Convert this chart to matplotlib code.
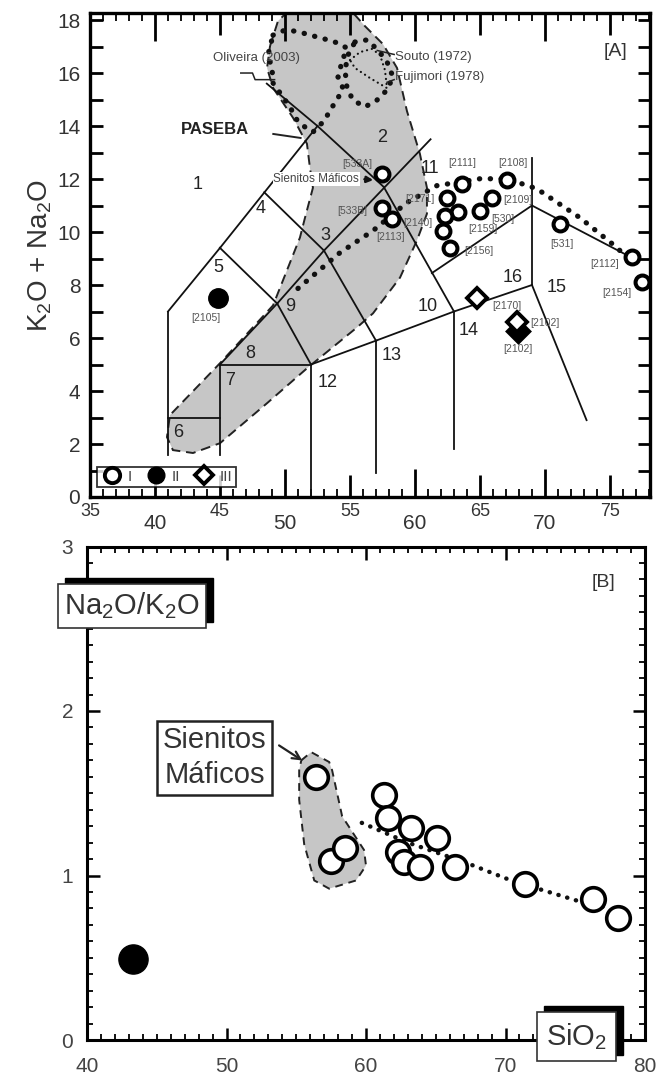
import numpy as np
import matplotlib
matplotlib.use('Agg')
import matplotlib.pyplot as plt
from matplotlib.lines import Line2D
from matplotlib.patches import Polygon, Rectangle
from matplotlib.ticker import MultipleLocator

plt.rcParams['font.family'] = ['Liberation Sans', 'DejaVu Sans']
plt.rcParams['mathtext.fontset'] = 'custom'
plt.rcParams['mathtext.rm'] = 'Liberation Sans'
plt.rcParams['mathtext.it'] = 'Liberation Sans:italic'
plt.rcParams['mathtext.bf'] = 'Liberation Sans:bold'

# ---------------- Panel A data (TAS) ----------------
grp1_sio2 = [57.5, 57.5, 58.2, 62.5, 63.6, 67.1, 65.9, 65.0, 63.3, 62.3, 62.15, 62.7, 71.15, 76.7, 77.45]
grp1_alk  = [12.2, 10.9, 10.5, 11.3, 11.8, 11.95, 11.3, 10.8, 10.75, 10.6, 10.05, 9.4, 10.3, 9.05, 8.1]
grp2_sio2 = [44.85]
grp2_alk  = [7.5]
grp3_sio2 = [64.8, 67.85]
grp3_alk  = [7.5, 6.6]
grp3f_sio2 = [67.9]
grp3f_alk  = [6.25]

sample_names = ['[533A]', '[533B]', '[2113]', '[2140]', '[2171]', '[2111]', '[2108]', '[2109]',
                '[530]', '[2159]', '[2156]', '[531]', '[2112]', '[2154]', '[2170]', '[2102]',
                '[2102]', '[2105]']
sample_lx = [55.6, 55.2, 58.1, 60.2, 60.4, 63.6, 67.5, 67.9, 66.8, 65.2, 64.9, 71.3, 74.6, 75.5,
             67.1, 70.0, 67.9, 43.9]
sample_ly = [12.55, 10.8, 9.8, 10.35, 11.25, 12.6, 12.6, 11.2, 10.5, 10.1, 9.3, 9.55, 8.8, 7.7,
             7.2, 6.55, 5.6, 6.75]

# TAS field boundaries (SiO2, alkalis)
field_x = [[41, 41], [41, 45], [45, 52.5], [52.5, 48.6], [52.5, 57.6], [45, 49.4], [49.4, 52],
           [41, 45], [45, 45], [45, 52], [45, 49.4], [49.4, 53], [53, 61.2], [48.4, 53],
           [53, 57], [52, 52], [52, 57], [57, 63], [63, 69], [57.6, 63], [57, 57], [63, 63],
           [69, 69], [69, 73.2], [61.3, 69], [69, 76.8]]
field_y = [[1.6, 7], [7, 9.4], [9.4, 14], [14, 15.6], [14, 11.7], [9.4, 7.3], [7.3, 5],
           [3, 3], [1.6, 5], [5, 5], [5, 7.3], [7.3, 9.3], [9.3, 13.5], [11.5, 9.3],
           [9.3, 5.9], [0, 5], [5, 5.9], [5.9, 7], [7, 8], [11.7, 7], [0.9, 5.9], [1.8, 7],
           [8, 12.8], [8, 2.9], [8.45, 11.0], [11.0, 9.0]]
field_labels = ['1', '2', '3', '4', '5', '6', '7', '8', '9', '10', '11', '12', '13', '14', '15', '16']
field_lx = [43.3, 57.5, 53.1, 48.1, 44.85, 41.8, 45.8, 47.3, 50.4, 61.0, 61.15, 53.3, 58.2, 64.1, 70.9, 67.5]
field_ly = [11.8, 13.55, 9.86, 10.9, 8.66, 2.45, 4.4, 5.4, 7.2, 7.2, 12.4, 4.33, 5.35, 6.3, 7.9, 8.3]

# PASEBA shaded field outline
paseba_x = [48.85, 49.46, 50.38, 55.0, 56.15, 57.54, 58.62, 59.38, 60.38, 60.92, 60.92, 60.15,
            58.85, 56.77, 55.54, 51.77, 48.62, 45.0, 42.92, 41.38, 40.92, 41.15, 45.0, 49.08,
            51.15, 51.54, 52.15, 51.92, 51.69, 50.62, 49.08, 48.62]
paseba_y = [17.02, 17.96, 18.4, 18.4, 17.77, 17.09, 16.19, 14.57, 12.95, 11.67, 10.69, 9.68,
            8.28, 6.93, 6.40, 4.89, 3.54, 2.03, 1.66, 1.77, 2.26, 3.09, 5.05, 7.23,
            9.79, 10.54, 11.67, 12.42, 13.33, 14.31, 15.44, 16.19]

# Oliveira (2003) field
oliv_x = [49.08, 50.0, 50.77, 51.69, 52.46, 53.31, 54.08, 54.77, 54.38, 54.08, 54.46, 54.0, 53.46,
          53.08, 52.15, 51.54, 50.92, 50.38, 49.62, 49.08, 49.0, 48.69, 49.08]
oliv_y = [17.43, 17.62, 17.58, 17.47, 17.36, 17.25, 17.13, 16.94, 16.42, 15.85, 15.43, 14.98, 14.6,
          14.23, 13.77, 13.96, 14.23, 14.72, 15.25, 15.62, 16.19, 16.68, 17.43]
# Souto (1972) field
souto_x = [55.38, 56.31, 57.15, 57.85, 58.31, 57.85, 57.08, 56.15, 55.23, 54.77, 54.62, 54.85, 55.38]
souto_y = [17.17, 17.25, 16.87, 16.42, 15.85, 15.36, 14.98, 14.72, 14.98, 15.43, 16.11, 16.68, 17.17]
# Fujimori (1978) field
fuji_x = [55.0, 55.77, 56.69, 57.31, 57.69, 57.85, 56.54, 55.38, 55.0]
fuji_y = [16.49, 16.79, 16.91, 16.68, 16.11, 15.43, 15.81, 16.19, 16.49]

# evolution trend (panel A)
trendA_x = [51.0, 54.23, 56.77, 59.38, 61.69, 65.0, 67.08, 69.38, 72.69, 75.54, 76.15]
trendA_y = [7.87, 9.22, 10.05, 11.11, 11.75, 12.01, 12.01, 11.63, 10.54, 9.41, 9.11]

# ---------------- Panel B data ----------------
b_maf_sio2 = [56.4, 57.5, 58.5]
b_maf_ratio = [1.60, 1.09, 1.17]
b_grp1_sio2 = [61.3, 61.6, 63.2, 62.3, 62.7, 63.9, 65.1, 66.4, 71.4, 76.3, 78.1]
b_grp1_ratio = [1.49, 1.35, 1.29, 1.14, 1.08, 1.05, 1.23, 1.05, 0.95, 0.86, 0.74]
b_grp2_sio2 = [43.3]
b_grp2_ratio = [0.49]
b_maf_field_x = [55.36, 56.07, 57.36, 57.57, 58.29, 59.86, 60.0, 59.29, 57.36, 56.29, 55.57, 55.21, 55.21]
b_maf_field_y = [1.70, 1.75, 1.69, 1.64, 1.36, 1.155, 1.06, 0.97, 0.92, 0.97, 1.19, 1.46, 1.64]
trendB_x = [59.7, 63.0, 67.1, 70.4, 75.4, 77.5]
trendB_y = [1.32, 1.20, 1.08, 0.97, 0.84, 0.80]

# ======================================================
fig = plt.figure(figsize=(6.57, 10.82), dpi=100)
axA = fig.add_axes([90/657, 1-497/1082, 560/657, (497-13.4)/1082])
axB = fig.add_axes([87/657, 1-1040/1082, 558/657, (1040-546.5)/1082])

TXT = '#333333'

# ---- Panel A ----
axA.set_xlim(35, 78.08)
axA.set_ylim(0, 18.25)

axA.add_patch(Polygon(np.column_stack([paseba_x, paseba_y]), closed=True,
                      facecolor='#c6c6c6', edgecolor='#222222', lw=1.4,
                      linestyle=(0, (5, 3)), zorder=1))
for fx, fy in zip(field_x, field_y):
    axA.plot(fx, fy, color='#111111', lw=1.3, zorder=2)

dot_style = dict(color='#111111', lw=3.8, linestyle=(0, (0.05, 2.0)),
                 dash_capstyle='round', zorder=3)
axA.plot(oliv_x, oliv_y, **dot_style)
axA.plot(souto_x, souto_y, **dot_style)
axA.plot(fuji_x, fuji_y, color='#111111', lw=1.6, linestyle=(0, (0.05, 2.2)),
         dash_capstyle='round', zorder=3)
axA.plot(trendA_x, trendA_y, **dot_style)

for t, x, y in zip(field_labels, field_lx, field_ly):
    axA.text(x, y, t, fontsize=13, color='#222222', ha='center', va='center', zorder=4)

axA.plot(grp1_sio2, grp1_alk, 'o', ms=10, mfc='white', mec='black', mew=2.9, zorder=6)
axA.plot(grp2_sio2, grp2_alk, 'o', ms=14, mfc='black', mec='black', zorder=6)
axA.plot(grp3f_sio2, grp3f_alk, 'D', ms=11, mfc='black', mec='black', mew=2.5, zorder=6)
axA.plot(grp3_sio2, grp3_alk, 'D', ms=10, mfc='white', mec='black', mew=2.8, zorder=7)

for t, x, y in zip(sample_names, sample_lx, sample_ly):
    axA.text(x, y, t, fontsize=7.5, color='#555555', ha='center', va='center', zorder=8)

# annotations of panel A
axA.text(47.8, 16.55, 'Oliveira (2003)', fontsize=9.5, color='#444444', ha='center', va='center', zorder=8)
axA.plot([46.6, 47.5, 47.7, 49.2], [16.0, 16.0, 15.75, 15.75], color='#222222', lw=1.1, zorder=8)
axA.text(58.45, 16.6, 'Souto (1972)', fontsize=9.5, color='#444444', ha='left', va='center', zorder=8)
axA.plot([57.1, 58.4], [16.85, 16.7], color='#222222', lw=1.1, zorder=8)
axA.text(58.45, 15.85, 'Fujimori (1978)', fontsize=9.5, color='#444444', ha='left', va='center', zorder=8)
axA.plot([57.85, 58.4], [15.65, 15.75], color='#222222', lw=1.1, zorder=8)
axA.text(44.6, 13.85, 'PASEBA', fontsize=12, fontweight='bold', color='#222222', ha='center', va='center', zorder=8)
axA.plot([49.1, 51.2], [13.7, 13.55], color='#222222', lw=1.4, zorder=8)
axA.text(52.4, 12.0, 'Sienitos Máficos', fontsize=8.5, color='#444444', ha='center', va='center', zorder=8,
         bbox=dict(boxstyle='square,pad=0.05', fc='white', ec='none'))
axA.annotate('', xy=(57.0, 11.95), xytext=(55.9, 12.0),
             arrowprops=dict(arrowstyle='-|>', color='#111111', lw=1.8, mutation_scale=9), zorder=8)
axA.text(75.4, 16.8, '[A]', fontsize=14, color=TXT, ha='center', va='center')

# legend
hI = Line2D([], [], marker='o', ls='none', ms=11, mfc='white', mec='black', mew=2.8)
hII = Line2D([], [], marker='o', ls='none', ms=12, mfc='black', mec='black')
hIII = Line2D([], [], marker='D', ls='none', ms=9, mfc='white', mec='black', mew=2.8)
leg = axA.legend([hI, hII, hIII], ['I', 'II', 'III'], ncol=3, loc='lower left',
                 bbox_to_anchor=(0.0125, 0.021), frameon=True, fancybox=False,
                 edgecolor='black', fontsize=11, handlelength=1.6, handletextpad=0.2,
                 columnspacing=0.8, borderpad=0.2, borderaxespad=0.0)
leg.get_frame().set_linewidth(1.3)
for t in leg.get_texts():
    t.set_color('#444444')
leg.set_zorder(10)

# axes styling panel A
for sp in axA.spines.values():
    sp.set_linewidth(2.4)
axA.set_yticks(np.arange(0, 19, 2))
axA.yaxis.set_minor_locator(MultipleLocator(1))
axA.tick_params(axis='y', which='both', direction='in', left=True, right=True,
                length=9, width=2.0, labelsize=15, labelcolor=TXT, pad=7)
xt = np.arange(35, 80, 5)
axA.set_xticks(xt)
axA.set_xticklabels([str(v) for v in xt])
axA.xaxis.set_minor_locator(MultipleLocator(1))
axA.tick_params(axis='x', which='minor', direction='in', top=True, bottom=True, length=6, width=1.3)
axA.tick_params(axis='x', which='major', direction='in', top=True, bottom=True, width=2.0, labelcolor=TXT)
for tick, v in zip(axA.xaxis.get_major_ticks(), xt):
    if v % 10 == 0:
        ln, fs, pd = 20, 15, 12
    else:
        ln, fs, pd = 16, 13, 4
    tick.tick1line.set_markersize(ln)
    tick.tick2line.set_markersize(ln)
    tick.label1.set_fontsize(fs)
    tick.label1.set_transform(axA.get_xaxis_text1_transform(pd)[0])

fig.text(40/657, 1-255/1082, 'K$_2$O + Na$_2$O', rotation=90, fontsize=20, color=TXT,
         ha='center', va='center')

# ---- Panel B ----
axB.set_xlim(40, 80)
axB.set_ylim(0, 3)
axB.add_patch(Polygon(np.column_stack([b_maf_field_x, b_maf_field_y]), closed=True,
                      facecolor='#c6c6c6', edgecolor='#222222', lw=1.4,
                      linestyle=(0, (4, 3)), zorder=1))
axB.plot(trendB_x, trendB_y, color='#111111', lw=3.2, linestyle=(0, (0.05, 2.0)),
         dash_capstyle='round', zorder=2)
axB.plot(b_maf_sio2, b_maf_ratio, 'o', ms=17, mfc='white', mec='black', mew=2.6, zorder=5)
axB.plot(b_grp1_sio2, b_grp1_ratio, 'o', ms=17, mfc='white', mec='black', mew=2.6, zorder=5)
axB.plot(b_grp2_sio2, b_grp2_ratio, 'o', ms=21, mfc='black', mec='black', zorder=5)

for sp in axB.spines.values():
    sp.set_linewidth(2.2)
axB.set_xticks(np.arange(40, 81, 10))
axB.xaxis.set_minor_locator(MultipleLocator(1))
axB.set_yticks(np.arange(0, 4, 1))
axB.yaxis.set_minor_locator(MultipleLocator(0.1))
axB.tick_params(which='major', direction='in', top=True, right=True, length=9, width=1.8,
                labelsize=15, labelcolor='#444444')
axB.tick_params(which='minor', direction='in', top=True, right=True, length=4.5, width=1.3)
axB.tick_params(axis='x', which='major', pad=12)
axB.tick_params(axis='y', which='major', pad=10)

box_texts = []
for (bx, by, btxt, bpad) in [(0.0806, 0.880, 'Na$_2$O/K$_2$O', 0.22), (0.877, 0.007, 'SiO$_2$', 0.3)]:
    t = axB.text(bx, by, btxt, transform=axB.transAxes, fontsize=21, color='#333333',
                 ha='center', va='center',
                 bbox=dict(boxstyle='square,pad=%g' % bpad, fc='white', ec='#333333', lw=1.2),
                 zorder=20, clip_on=False)
    box_texts.append(t)

axB.text(0.229, 0.572, 'Sienitos\nMáficos', transform=axB.transAxes, fontsize=21, color='#333333',
         ha='center', va='center', linespacing=1.3,
         bbox=dict(boxstyle='square,pad=0.2', fc='white', ec='#222222', lw=1.8), zorder=10)
axB.annotate('', xy=(55.6, 1.69), xytext=(53.6, 1.80),
             arrowprops=dict(arrowstyle='->', color='#222222', lw=1.6, mutation_scale=14), zorder=10)
axB.text(77.0, 2.78, '[B]', fontsize=14, color=TXT, ha='center', va='center')

# black "shadow" rectangles behind the label boxes
fig.canvas.draw()
renderer = fig.canvas.get_renderer()
W, H = fig.bbox.width, fig.bbox.height
for t in box_texts:
    bb = t.get_bbox_patch().get_window_extent(renderer)
    sh = Rectangle(((bb.x0 + 7) / W, (bb.y0 + 6) / H), bb.width / W, bb.height / H,
                   transform=fig.transFigure, facecolor='black', edgecolor='black',
                   zorder=19, clip_on=False)
    axB.add_patch(sh)

fig.savefig('out.png', dpi=100)
